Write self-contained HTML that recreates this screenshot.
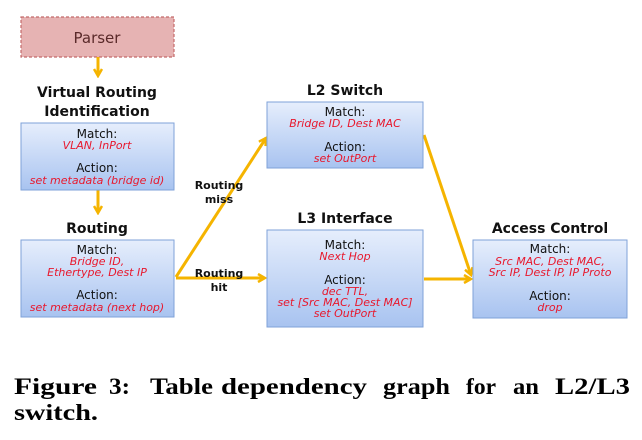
<!DOCTYPE html>
<html><head><meta charset="utf-8"><style>
html,body{margin:0;padding:0;background:#fff;}
svg{display:block}
.t{font-family:"DejaVu Sans","Liberation Sans",sans-serif;fill:#111;text-anchor:middle}
.h{font-size:14px;font-weight:bold}
.m{font-size:12px}
.r{font-size:11px;font-style:italic;fill:#e8182d}
.l{font-size:11px;font-weight:bold}
.cap{font-family:"Liberation Serif",serif;font-weight:bold;font-size:23px;fill:#000}
</style></head><body>
<svg width="642" height="440" viewBox="0 0 642 440" xmlns="http://www.w3.org/2000/svg">
<defs>
<linearGradient id="g" x1="0" y1="0" x2="0" y2="1">
<stop offset="0" stop-color="#e6eefc"/><stop offset="1" stop-color="#a8c3f0"/>
</linearGradient>
<marker id="a" markerWidth="10" markerHeight="10" refX="8" refY="5" orient="auto" markerUnits="userSpaceOnUse">
<path d="M1,1 L8,5 L1,9" fill="none" stroke="#f5b400" stroke-width="2.5"/>
</marker>
</defs>
<rect x="21" y="17" width="153" height="40" fill="#e6b3b3" stroke="#c46a6a" stroke-dasharray="3,2" stroke-width="1.2"/>
<text class="t" x="97" y="43" style="font-size:15px;fill:#5a2a2a">Parser</text>
<g stroke="#f5b400" stroke-width="3" fill="none">
<line x1="98" y1="57" x2="98" y2="76" marker-end="url(#a)"/>
<line x1="98" y1="190" x2="98" y2="213" marker-end="url(#a)"/>
<line x1="176" y1="277" x2="266" y2="138" marker-end="url(#a)"/>
<line x1="176" y1="278" x2="265" y2="278" marker-end="url(#a)"/>
<line x1="424" y1="135" x2="471" y2="275" marker-end="url(#a)"/>
<line x1="424" y1="279" x2="471" y2="279" marker-end="url(#a)"/>
</g>
<text class="t h" x="97" y="97">Virtual Routing</text>
<text class="t h" x="97" y="116">Identification</text>
<rect x="21" y="123" width="153" height="67" fill="url(#g)" stroke="#7fa2d8"/>
<text class="t m" x="97" y="138">Match:</text>
<text class="t r" x="97" y="149">VLAN, InPort</text>
<text class="t m" x="97" y="172">Action:</text>
<text class="t r" x="97" y="184">set metadata (bridge id)</text>
<text class="t h" x="97" y="233">Routing</text>
<rect x="21" y="240" width="153" height="77" fill="url(#g)" stroke="#7fa2d8"/>
<text class="t m" x="97" y="254">Match:</text>
<text class="t r" x="97" y="265">Bridge ID,</text>
<text class="t r" x="97" y="276">Ethertype, Dest IP</text>
<text class="t m" x="97" y="299">Action:</text>
<text class="t r" x="97" y="311">set metadata (next hop)</text>
<text class="t l" x="219" y="189">Routing</text>
<text class="t l" x="219" y="203">miss</text>
<text class="t l" x="219" y="277">Routing</text>
<text class="t l" x="219" y="291">hit</text>
<text class="t h" x="345" y="95">L2 Switch</text>
<rect x="267" y="102" width="156" height="66" fill="url(#g)" stroke="#7fa2d8"/>
<text class="t m" x="345" y="116">Match:</text>
<text class="t r" x="345" y="127">Bridge ID, Dest MAC</text>
<text class="t m" x="345" y="151">Action:</text>
<text class="t r" x="345" y="162">set OutPort</text>
<text class="t h" x="345" y="223">L3 Interface</text>
<rect x="267" y="230" width="156" height="97" fill="url(#g)" stroke="#7fa2d8"/>
<text class="t m" x="345" y="249">Match:</text>
<text class="t r" x="345" y="260">Next Hop</text>
<text class="t m" x="345" y="284">Action:</text>
<text class="t r" x="345" y="295">dec TTL,</text>
<text class="t r" x="345" y="306">set [Src MAC, Dest MAC]</text>
<text class="t r" x="345" y="317">set OutPort</text>
<text class="t h" x="550" y="233">Access Control</text>
<rect x="473" y="240" width="154" height="78" fill="url(#g)" stroke="#7fa2d8"/>
<text class="t m" x="550" y="253">Match:</text>
<text class="t r" x="550" y="265">Src MAC, Dest MAC,</text>
<text class="t r" x="550" y="276">Src IP, Dest IP, IP Proto</text>
<text class="t m" x="550" y="300">Action:</text>
<text class="t r" x="550" y="311">drop</text>
<g class="cap">
<text x="14" y="394" textLength="83" lengthAdjust="spacingAndGlyphs">Figure</text>
<text x="109" y="394" textLength="21" lengthAdjust="spacingAndGlyphs">3:</text>
<text x="150" y="394" textLength="63" lengthAdjust="spacingAndGlyphs">Table</text>
<text x="221" y="394" textLength="146" lengthAdjust="spacingAndGlyphs">dependency</text>
<text x="383" y="394" textLength="67" lengthAdjust="spacingAndGlyphs">graph</text>
<text x="466" y="394" textLength="30" lengthAdjust="spacingAndGlyphs">for</text>
<text x="513" y="394" textLength="26" lengthAdjust="spacingAndGlyphs">an</text>
<text x="555" y="394" textLength="75" lengthAdjust="spacingAndGlyphs">L2/L3</text>
<text x="14" y="420" textLength="84" lengthAdjust="spacingAndGlyphs">switch.</text>
</g>
</svg>
</body></html>
